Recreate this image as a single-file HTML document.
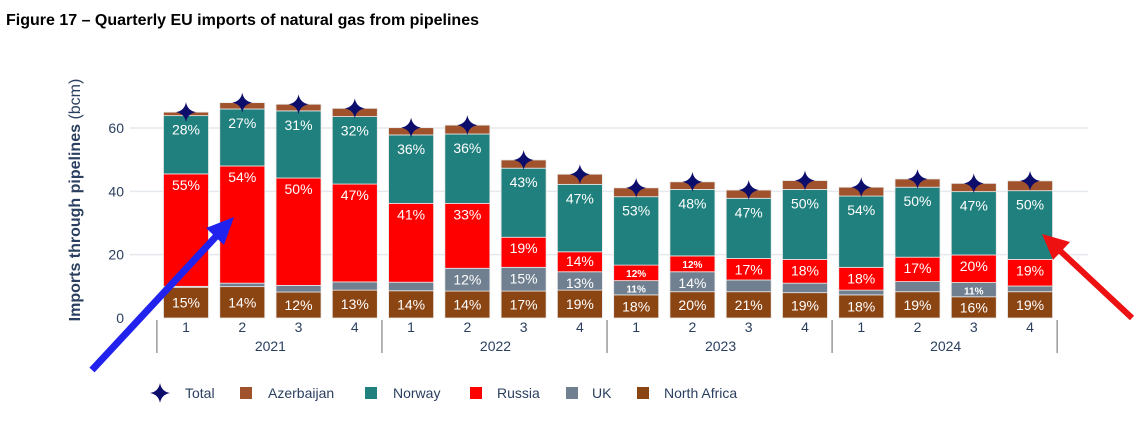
<!DOCTYPE html>
<html><head><meta charset="utf-8"><style>
body{margin:0;background:#fff;width:1141px;height:427px;overflow:hidden;font-family:"Liberation Sans","DejaVu Sans",sans-serif}
</style></head><body>
<svg id="c" width="1141" height="427" xmlns="http://www.w3.org/2000/svg">
<text x="6" y="25" font-size="16" font-weight="bold" fill="#000">Figure 17 – Quarterly EU imports of natural gas from pipelines</text>
<g id="grid"></g><g id="bars"></g><g id="axes"></g>
<text transform="translate(80,200) rotate(-90)" text-anchor="middle" font-size="16" fill="#2a3f5f"><tspan font-weight="bold">Imports through pipelines</tspan> (bcm)</text>
<g id="legend"></g>
<g><line x1="92" y1="370" x2="222" y2="230" stroke="#2222ee" stroke-width="7"/><polygon points="234,217 206,228 224,245" fill="#2222ee"/></g>
<g><line x1="1132" y1="318" x2="1055" y2="246" stroke="#ee1111" stroke-width="6"/><polygon points="1042,234 1070,242 1053,260" fill="#ee1111"/></g>
</svg>
<script>
const quarters=["1","2","3","4","1","2","3","4","1","2","3","4","1","2","3","4"];
const years=["2021","2022","2023","2024"];
const northAfrica=[9.7,9.9,8.2,8.8,8.6,8.5,8.5,8.8,7.3,8.3,8.3,8.0,7.3,8.3,6.7,8.3];
const uk=[0.3,1.1,2.1,2.6,2.7,7.2,7.5,5.8,4.5,6.3,3.7,3.0,1.5,3.2,4.5,1.8];
const russia=[35.5,37,33.9,30.9,24.9,20.5,9.5,6.3,4.9,5.0,6.8,7.5,7.2,7.7,8.7,8.4];
const norway=[18.4,18,21.2,21.3,21.6,21.9,21.8,21.3,21.6,21,19,22.1,22.5,22.1,20,21.7];
const azerbaijan=[1.1,2,2.1,2.6,2.3,2.8,2.6,3.2,2.8,2.4,2.6,2.8,2.8,2.6,2.6,3.1];
const naLabels=["15%","14%","12%","13%","14%","14%","17%","19%","18%","20%","21%","19%","18%","19%","16%","19%"];
const ukLabels=["","","","","","12%","15%","13%","11%","14%","","","","","11%",""];
const ruLabels=["55%","54%","50%","47%","41%","33%","19%","14%","12%","12%","17%","18%","18%","17%","20%","19%"];
const noLabels=["28%","27%","31%","32%","36%","36%","43%","47%","53%","48%","47%","50%","54%","50%","47%","50%"];
const yTicks=[0,20,40,60];
const NS="http://www.w3.org/2000/svg";
const y0=318,ppu=3.167,x0=186,step=56.27,bw=45;
const Y=v=>y0-v*ppu, X=i=>x0+i*step;
function mk(t,a,p){const e=document.createElementNS(NS,t);for(const k in a)e.setAttribute(k,a[k]);p.appendChild(e);return e;}
const grid=document.getElementById('grid'),bars=document.getElementById('bars'),axes=document.getElementById('axes'),leg=document.getElementById('legend');
yTicks.forEach(v=>{
 if(v>0){const l=mk('line',{x1:130,x2:1088,y1:Y(v),y2:Y(v),stroke:'#e5e8ec','stroke-width':1.5},grid);
 
 }
 const t=mk('text',{x:124,y:Y(v)+5,'text-anchor':'end','font-size':14,fill:'#2a3f5f'},axes);t.textContent=v;
 
 
});
const series=[[northAfrica,'#8B4513',naLabels,'north-africa'],[uk,'#708090',ukLabels,'uk'],[russia,'#FF0000',ruLabels,'russia'],[norway,'#1F807E',noLabels,'norway'],[azerbaijan,'#A0522D',null,'azerbaijan']];
quarters.forEach((q,i)=>{
 let cum=0;const cx=X(i);
 series.forEach(([d,col,lab,nm])=>{
  const v=d[i];const yt=Y(cum+v),yb=Y(cum);
  const r=mk('rect',{x:cx-bw/2,y:yt,width:bw,height:Math.max(0,yb-yt),fill:col,stroke:'#e8e8e8','stroke-width':0.8},bars);
  
  
  if(lab&&lab[i]){const h=yb-yt;const fs=h<16?10:14;
   const ty=nm==='norway'?yt+19:(nm==='north-africa'?(yt+yb)/2+5:yt+fs+2);
   const t=mk('text',{x:cx,y:nm==='russia'&&h<20?(yt+yb)/2+4:ty,'text-anchor':'middle','font-size':fs,'font-weight':fs<12?'bold':'normal',fill:'#fff'},bars);t.textContent=lab[i];
   
   }
  cum+=v;
 });
 const s=mk('path',{d:`M${cx},${Y(cum)-10} Q${cx+1.5},${Y(cum)-1.5} ${cx+10},${Y(cum)} Q${cx+1.5},${Y(cum)+1.5} ${cx},${Y(cum)+10} Q${cx-1.5},${Y(cum)+1.5} ${cx-10},${Y(cum)} Q${cx-1.5},${Y(cum)-1.5} ${cx},${Y(cum)-10}Z`,fill:'#0d0d6b'},bars);
 
 
 const t=mk('text',{x:cx,y:332,'text-anchor':'middle','font-size':14,fill:'#2a3f5f'},axes);t.textContent=q;
 
 
});
for(let g=0;g<=4;g++){const x=X(g*4)-step/2-1;
 const l=mk('line',{x1:x,x2:x,y1:320,y2:353,stroke:'#9a9a9a','stroke-width':1.5},axes);
 
 }
years.forEach((yr,g)=>{const t=mk('text',{x:(X(g*4)+X(g*4+3))/2,y:351,'text-anchor':'middle','font-size':14,fill:'#2a3f5f'},axes);t.textContent=yr;
 
 });
const legendItems=[['Total',null,160,185],['Azerbaijan','#A0522D',246,268],['Norway','#1F807E',371,393],['Russia','#FF0000',476,497],['UK','#708090',572,592],['North Africa','#8B4513',643,664]];
legendItems.forEach(([n,col,mx,tx])=>{
 const g=mk('g',{},leg);
 
 
 if(col)mk('rect',{x:mx-6,y:387,width:12,height:12,fill:col},g);
 else mk('path',{d:`M${mx},383 Q${mx+1.5},391.5 ${mx+10},393 Q${mx+1.5},394.5 ${mx},403 Q${mx-1.5},394.5 ${mx-10},393 Q${mx-1.5},391.5 ${mx},383Z`,fill:'#0d0d6b'},g);
 const t=mk('text',{x:tx,y:398,'font-size':14,fill:'#2a3f5f'},g);t.textContent=n;
});
</script>
</body></html>
